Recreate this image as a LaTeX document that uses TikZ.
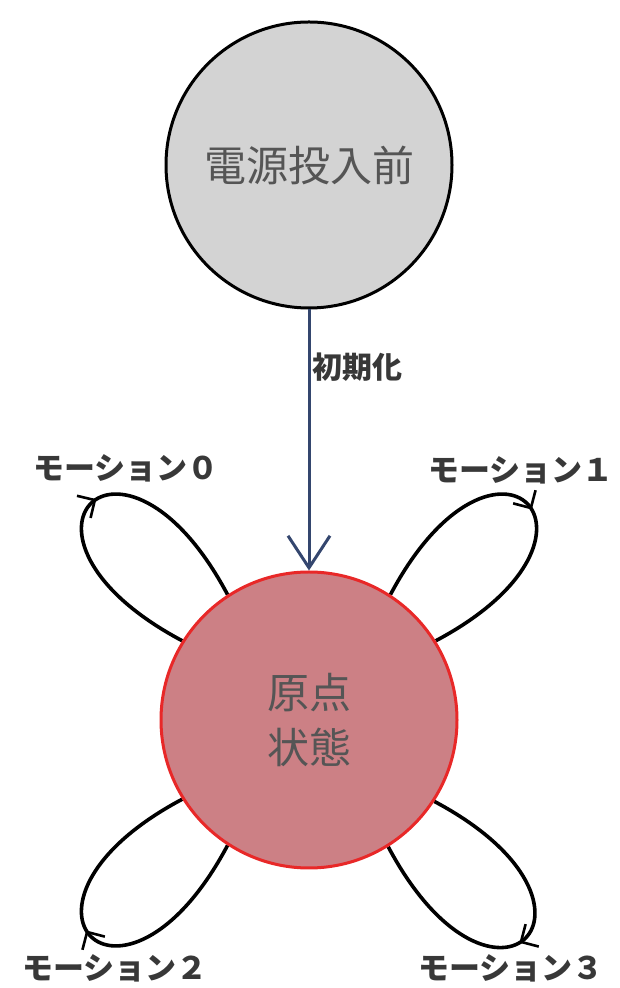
\documentclass[tikz,border=0pt]{standalone}
\usepackage{fontspec}
\setmainfont{Noto Sans CJK JP}
\usetikzlibrary{arrows.meta,decorations.markings}
\definecolor{txtgray}{RGB}{85,85,85}
\definecolor{topfill}{RGB}{211,211,211}
\definecolor{rosefill}{RGB}{204,128,133}
\definecolor{redline}{RGB}{232,40,40}
\definecolor{navy}{RGB}{52,70,110}
\tikzset{
  state/.style={circle, line width=3pt, inner sep=0pt, text=txtgray, align=center},
  selfloop/.style={line width=3.6pt, postaction=decorate,
    decoration={markings, mark=at position 0.52 with {\arrow[line width=2.6pt]{Straight Barb[length=13pt,width=26pt]}}}},
  mlabel/.style={text=black!78, font=\fontsize{31}{36}\selectfont\bfseries},
}
\begin{document}
\begin{tikzpicture}[x=1pt,y=1pt]
\useasboundingbox (0,0) rectangle (619,988);
% loops first (under the red circle)
\coordinate (oc) at (309,268);
\node[state, minimum size=296pt] (oshape) at (oc) {};
\draw[selfloop] (oshape.148) .. controls +(152:225) and +(118:225) .. (oshape.123);
\draw[selfloop] (oshape.57) .. controls +(62:225) and +(28:225) .. (oshape.32);
\draw[selfloop] (oshape.237) .. controls +(242:225) and +(208:225) .. (oshape.212);
\draw[selfloop] (oshape.327) .. controls +(332:225) and +(298:225) .. (oshape.302);
\node[state, draw=black, fill=topfill, minimum size=286pt, font=\fontsize{42}{50}\selectfont] (pre) at (309,823) {電源投入前};
\node[state, draw=redline, fill=rosefill, minimum size=296pt, font=\fontsize{42}{55}\selectfont] (orig) at (oc) {原点\\状態};
\draw[navy, line width=3pt, -{Straight Barb[length=32pt,width=42pt]}] (pre) -- (orig);
\node[anchor=west, text=black!78, font=\fontsize{30}{34}\selectfont\bfseries] (init) at (309,621) {初期化};
\node[mlabel] (m0) at (126,520) {モーション０};
\node[mlabel] (m1) at (521,518) {モーション１};
\node[mlabel] (m2) at (115,20) {モーション２};
\node[mlabel] (m3) at (511,20) {モーション３};
\end{tikzpicture}
\end{document}
